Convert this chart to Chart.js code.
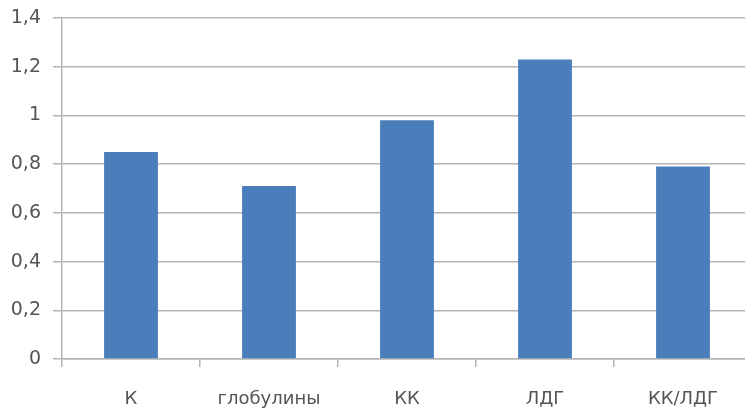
<!DOCTYPE html>
<html>
<head>
<meta charset="utf-8">
<script src="https://cdn.jsdelivr.net/npm/chart.js@4/dist/chart.umd.min.js"></script>
<style>
  html, body { margin: 0; padding: 0; background: #fff; overflow: hidden; }
  #wrap { width: 760px; height: 412px; }
</style>
</head>
<body>
<div id="wrap"><canvas id="c" width="760" height="412"></canvas></div>
<script>
// Categories and measured ratios
const categories = ['К', 'глобулины', 'КК', 'ЛДГ', 'КК/ЛДГ'];
const values = [0.85, 0.71, 0.98, 1.23, 0.79];
const yMin = 0;
const yMax = 1.4;
const yStep = 0.2;

const gridColor = '#b4b4b4';
const textColor = '#555555';
const fontFamily = '"DejaVu Sans", "Liberation Sans", sans-serif';

new Chart(document.getElementById('c'), {
  type: 'bar',
  data: {
    labels: categories,
    datasets: [{
      data: values,
      backgroundColor: '#4a7ebb',
      borderWidth: 0,
      barPercentage: 0.39,
      categoryPercentage: 1.0
    }]
  },
  options: {
    responsive: false,
    animation: false,
    layout: { padding: { top: 18, right: 8, left: 0, bottom: 0 } },
    plugins: { legend: { display: false }, tooltip: { enabled: false } },
    scales: {
      x: {
        offset: true,
        grid: {
          offset: true,
          drawOnChartArea: false,
          drawTicks: true,
          tickLength: 8,
          color: gridColor,
          lineWidth: 1.5
        },
        border: { display: true, color: gridColor, width: 1.5 },
        ticks: {
          color: textColor,
          font: { family: fontFamily, size: 18 },
          padding: 22
        },
        afterFit(scale) { scale.height = 53; }
      },
      y: {
        min: yMin,
        max: yMax,
        ticks: {
          stepSize: yStep,
          color: textColor,
          font: { family: fontFamily, size: 19 },
          padding: 12,
          callback: v => String(Math.round(v * 10) / 10).replace('.', ',')
        },
        grid: {
          color: gridColor,
          lineWidth: 1.5,
          tickLength: 9
        },
        border: { display: true, color: gridColor, width: 1.5 },
        afterFit(scale) {
          scale.width = 62;
          scale.paddingTop = 0;
          scale.paddingBottom = 0;
        }
      }
    }
  }
});
</script>
</body>
</html>
